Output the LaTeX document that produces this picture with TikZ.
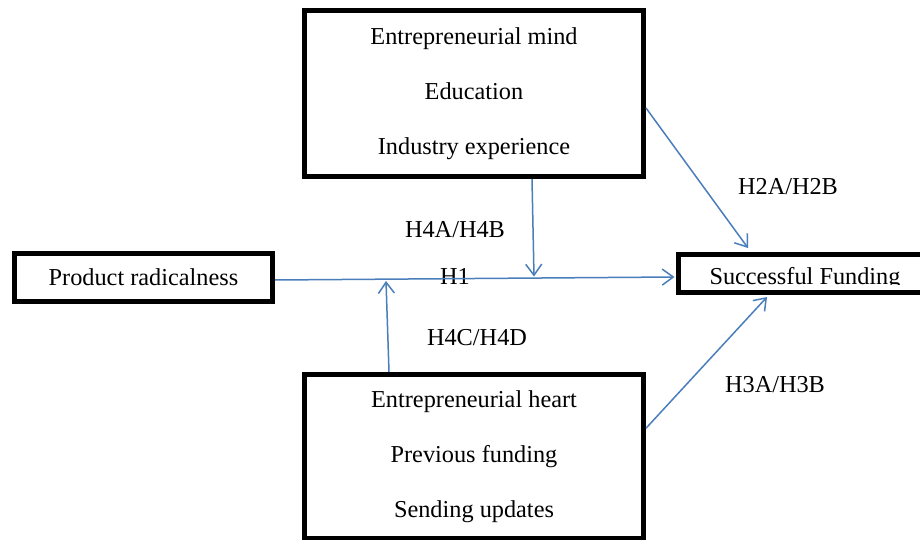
\documentclass[tikz,border=0pt]{standalone}
\usepackage{fontspec}
\setmainfont{Liberation Serif}
\usetikzlibrary{arrows.meta}
\definecolor{linkblue}{RGB}{74,126,187}
\tikzset{
  boxnode/.style={draw=black, line width=5pt, rectangle, inner sep=0pt, align=center,
    font=\fontsize{24.3}{55}\selectfont},
  lbl/.style={inner sep=0pt, font=\fontsize{24.3}{28}\selectfont},
  link/.style={draw=linkblue, line width=1.5pt,
    -{Straight Barb[length=11pt,width=16pt,line width=1.5pt]}},
}
\begin{document}
\begin{tikzpicture}[x=1pt,y=-1pt]
\useasboundingbox (0,0) rectangle (920,540);
\clip (0,0) rectangle (920,540);
\fill[white] (0,0) rectangle (920,540);

\node[boxnode, minimum width=339pt, minimum height=166pt] (mind) at (474,93.5)
  {Entrepreneurial mind\\Education\\Industry experience};
\node[boxnode, minimum width=339pt, minimum height=163.5pt] (heart) at (474,456.25)
  {Entrepreneurial heart\\Previous funding\\Sending updates};
\node[boxnode, minimum width=258pt, minimum height=48pt] (prod) at (143.5,277.5)
  {Product radicalness};
\node[boxnode, minimum width=262pt, minimum height=38pt] (fund) at (809,273) {};
\begin{scope}
  \clip (680,256) rectangle (918,284.8);
  \node[lbl, anchor=base] (fundtxt) at (805,284) {Successful Funding};
\end{scope}

\node[lbl] (h1) at (455,276) {H1};
\node[lbl] (h2) at (788,187) {H2A/H2B};
\node[lbl] (h3) at (775,385) {H3A/H3B};
\node[lbl] (h4ab) at (455,230) {H4A/H4B};
\node[lbl] (h4cd) at (477,338) {H4C/H4D};

\coordinate (m1) at (534,276.5);
\coordinate (m2) at (386,281);

\draw[link] ([yshift=-2.5pt]prod.east) -- ([yshift=-4pt,xshift=-1pt]fund.west);
\draw[link] ([xshift=58pt]mind.south) -- (m1);
\draw[link] ([xshift=-85pt]heart.north) -- (m2);
\draw[link] ([yshift=-14.5pt]mind.east) -- ([xshift=-61pt,yshift=3.5pt]fund.north);
\draw[link] ([yshift=28pt]heart.east) -- ([xshift=-42pt,yshift=-2.5pt]fund.south);
\end{tikzpicture}
\end{document}
